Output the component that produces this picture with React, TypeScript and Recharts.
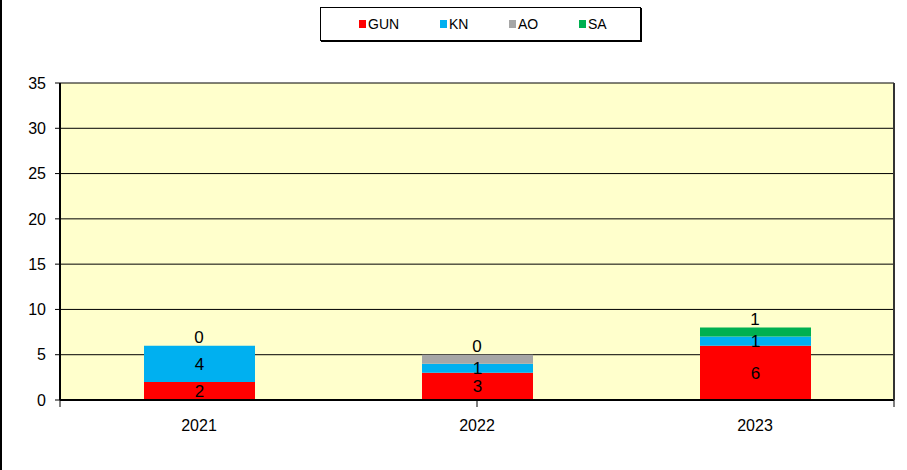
import React from 'react'
import { ComposedChart, Bar, Line, XAxis, YAxis, CartesianGrid, LabelList } from 'recharts'

const years = ['2021', '2022', '2023']
const gun = [2, 3, 6]
const kn = [4, 1, 1]
const ao = [0, 1, 0]
const sa = [0, 0, 1]
const yTicks = [0, 5, 10, 15, 20, 25, 30, 35]
const edgeTicks = [0, 1, 2, 3]

const series = [
  { key: 'GUN', color: '#FF0000' },
  { key: 'KN', color: '#00B0F0' },
  { key: 'AO', color: '#A6A6A6' },
  { key: 'SA', color: '#00B050' },
]

const data = years.map((year, i) => ({
  year,
  GUN: gun[i],
  KN: kn[i],
  AO: ao[i],
  SA: sa[i],
  total: gun[i] + kn[i] + ao[i] + sa[i],
}))

const font = 'Arial, "Liberation Sans", sans-serif'

function LegendBox() {
  return (
    <div
      style={{
        position: 'absolute',
        left: 318,
        top: 7,
        width: 319,
        height: 32,
        border: '1px solid #000',
        boxShadow: '1px 1px 0 #000',
        background: '#fff',
        display: 'flex',
        alignItems: 'center',
        fontSize: 14,
        fontFamily: font,
        zIndex: 2,
      }}
    >
      {series.map((s, i) => (
        <div
          key={s.key}
          style={{
            position: 'absolute',
            left: [38, 119, 188, 258][i],
            display: 'flex',
            alignItems: 'center',
          }}
        >
          <span style={{ width: 7, height: 8, background: s.color, display: 'inline-block', marginRight: 2 }} />
          <span>{s.key}</span>
        </div>
      ))}
    </div>
  )
}

export default function App() {
  return (
    <div
      style={{
        position: 'absolute',
        left: 0,
        top: 0,
        width: 907,
        height: 470,
        background: '#fff',
        fontFamily: font,
        borderLeft: '2px solid #000',
        boxSizing: 'border-box',
      }}
    >
      <LegendBox />
      <ComposedChart
        width={905}
        height={470}
        data={data}
        margin={{ top: 83, right: 0, left: 0, bottom: 32 }}
        barSize={111}
      >
        <CartesianGrid
          xAxisId="b_cat"
          yAxisId="l"
          vertical={false}
          stroke="#000"
          fill="#FFFFCC"
          fillOpacity={1}
          strokeOpacity={1}
        />
        <XAxis
          xAxisId="a_edge"
          type="number"
          domain={[0, 3]}
          ticks={edgeTicks}
          interval={0}
          tickFormatter={() => ''}
          tickSize={7}
          height={8}
          axisLine={{ stroke: '#000', strokeWidth: 2 }}
          tickLine={{ stroke: '#000' }}
          allowDataOverflow
        />
        <XAxis
          xAxisId="b_cat"
          dataKey="year"
          axisLine={false}
          tickLine={false}
          height={30}
          tickMargin={6}
          tick={{ fill: '#000', fontSize: 16 }}
        />
        <YAxis
          yAxisId="l"
          domain={[0, 35]}
          ticks={yTicks}
          width={58}
          tickSize={5}
          tickMargin={9}
          interval={0}
          axisLine={{ stroke: '#000', strokeWidth: 2 }}
          tickLine={{ stroke: '#000' }}
          tick={{ fill: '#000', fontSize: 16 }}
        />
        <YAxis
          yAxisId="r"
          orientation="right"
          domain={[0, 35]}
          width={13}
          tick={false}
          tickLine={false}
          axisLine={{ stroke: '#333', strokeWidth: 2 }}
        />
        <Bar dataKey="GUN" stackId="a" fill="#FF0000" xAxisId="b_cat" yAxisId="l" isAnimationActive={false}>
          <LabelList dataKey="GUN" position="center" fill="#000" fontSize={17} />
        </Bar>
        <Bar dataKey="KN" stackId="a" fill="#00B0F0" xAxisId="b_cat" yAxisId="l" isAnimationActive={false}>
          <LabelList dataKey="KN" position="center" fill="#000" fontSize={17} />
        </Bar>
        <Bar dataKey="AO" stackId="a" fill="#A6A6A6" xAxisId="b_cat" yAxisId="l" isAnimationActive={false} />
        <Bar dataKey="SA" stackId="a" fill="#00B050" xAxisId="b_cat" yAxisId="l" isAnimationActive={false} />
        <Line
          dataKey="total"
          xAxisId="b_cat"
          yAxisId="l"
          stroke="none"
          dot={false}
          activeDot={false}
          legendType="none"
          isAnimationActive={false}
        >
          <LabelList dataKey="SA" position="top" fill="#000" fontSize={17} offset={3} />
        </Line>
      </ComposedChart>
    </div>
  )
}
